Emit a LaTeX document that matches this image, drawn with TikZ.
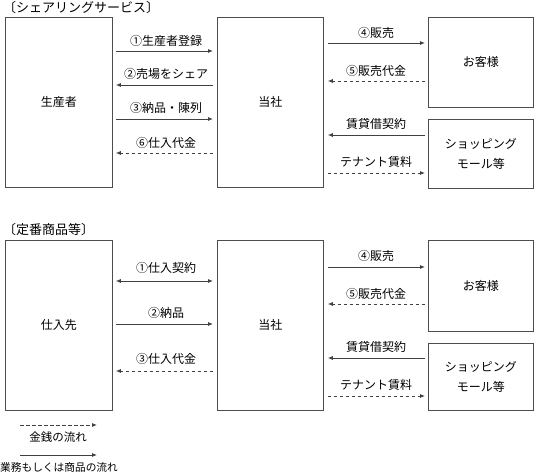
\documentclass[tikz,border=0pt]{standalone}
\usepackage{fontspec}
\setmainfont{Noto Sans CJK JP}
\usetikzlibrary{arrows.meta}
\begin{document}
\begin{tikzpicture}[x=1pt,y=-1pt,
  box/.style={draw=black!70, line width=0.8pt, rectangle, inner sep=0pt, anchor=north west, align=center, font=\fontsize{12}{20}\selectfont},
  lbl/.style={font=\fontsize{12}{14}\selectfont, inner sep=0pt},
  ttl/.style={font=\fontsize{13}{15}\selectfont, inner sep=0pt, anchor=west},
  flow/.style={draw=black!75, line width=0.8pt, -{Latex[length=5pt,width=4pt]}},
  both/.style={flow, {Latex[length=5pt,width=4pt]}-{Latex[length=5pt,width=4pt]}},
  money/.style={flow, dash pattern=on 3.5pt off 2.5pt}]
\useasboundingbox (0,0) rectangle (535,473);

% ---------- top section ----------
\node[ttl] (t1) at (3,8) {〔シェアリングサービス〕};
\node[box, minimum width=107pt, minimum height=170pt] (prod) at (5,17) {生産者};
\node[box, minimum width=106pt, minimum height=170pt] (toku1) at (217,17) {当社};
\node[box, minimum width=105pt, minimum height=90pt] (cust1) at (428,17) {お客様};
\node[box, minimum width=105pt, minimum height=69pt] (mall1) at (428,119) {ショッピング\\モール等};

\draw[flow]  ([xshift=3pt]prod.east |- 0,51) -- ([xshift=-4pt]toku1.west |- 0,51);
\draw[flow]  ([xshift=-4pt]toku1.west |- 0,85) -- ([xshift=3pt]prod.east |- 0,85);
\draw[flow]  ([xshift=3pt]prod.east |- 0,119) -- ([xshift=-4pt]toku1.west |- 0,119);
\draw[money] ([xshift=-4pt]toku1.west |- 0,153) -- ([xshift=3pt]prod.east |- 0,153);
\node[lbl] (a1) at (166,41) {①生産者登録};
\node[lbl] (a2) at (166,74) {②売場をシェア};
\node[lbl] (a3) at (166,108) {③納品・陳列};
\node[lbl] (a6) at (166,143) {⑥仕入代金};

\draw[flow]  ([xshift=4pt]toku1.east |- 0,43) -- ([xshift=-3pt]cust1.west |- 0,43);
\draw[money] ([xshift=-3pt]cust1.west |- 0,81) -- ([xshift=4pt]toku1.east |- 0,81);
\draw[flow]  ([xshift=-3pt]mall1.west |- 0,135) -- ([xshift=4pt]toku1.east |- 0,135);
\draw[money] ([xshift=4pt]toku1.east |- 0,173) -- ([xshift=-3pt]mall1.west |- 0,173);
\node[lbl] (a4) at (376,33) {④販売};
\node[lbl] (a5) at (376,71) {⑤販売代金};
\node[lbl] (r1) at (376,124) {賃貸借契約};
\node[lbl] (r2) at (376,162) {テナント賃料};

% ---------- bottom section ----------
\node[ttl] (t2) at (3,230) {〔定番商品等〕};
\node[box, minimum width=107pt, minimum height=170pt] (sup) at (5,240) {仕入先};
\node[box, minimum width=106pt, minimum height=170pt] (toku2) at (217,240) {当社};
\node[box, minimum width=105pt, minimum height=91pt] (cust2) at (428,240) {お客様};
\node[box, minimum width=105pt, minimum height=67pt] (mall2) at (428,343) {ショッピング\\モール等};

\draw[both]  ([xshift=3pt]sup.east |- 0,281) -- ([xshift=-4pt]toku2.west |- 0,281);
\draw[flow]  ([xshift=3pt]sup.east |- 0,324) -- ([xshift=-4pt]toku2.west |- 0,324);
\draw[money] ([xshift=-4pt]toku2.west |- 0,371) -- ([xshift=3pt]sup.east |- 0,371);
\node[lbl] (b1) at (166,268) {①仕入契約};
\node[lbl] (b2) at (166,313) {②納品};
\node[lbl] (b3) at (166,359) {③仕入代金};

\draw[flow]  ([xshift=4pt]toku2.east |- 0,267) -- ([xshift=-3pt]cust2.west |- 0,267);
\draw[money] ([xshift=-3pt]cust2.west |- 0,304) -- ([xshift=4pt]toku2.east |- 0,304);
\draw[flow]  ([xshift=-3pt]mall2.west |- 0,358) -- ([xshift=4pt]toku2.east |- 0,358);
\draw[money] ([xshift=4pt]toku2.east |- 0,396) -- ([xshift=-3pt]mall2.west |- 0,396);
\node[lbl] (b4) at (376,256) {④販売};
\node[lbl] (b5) at (376,294) {⑤販売代金};
\node[lbl] (s1) at (376,347) {賃貸借契約};
\node[lbl] (s2) at (376,385) {テナント賃料};

% ---------- legend ----------
\coordinate (m0) at (20,425);
\coordinate (m1) at (97,425);
\coordinate (g0) at (20,455);
\coordinate (g1) at (97,455);
\draw[money] (m0) -- (m1);
\draw[flow] (g0) -- (g1);
\node[lbl, font=\fontsize{11.5}{13}\selectfont] (lm) at (58,437) {金銭の流れ};
\node[lbl, font=\fontsize{10.7}{13}\selectfont, anchor=west] (lg) at (0,467) {業務もしくは商品の流れ};
\end{tikzpicture}
\end{document}
